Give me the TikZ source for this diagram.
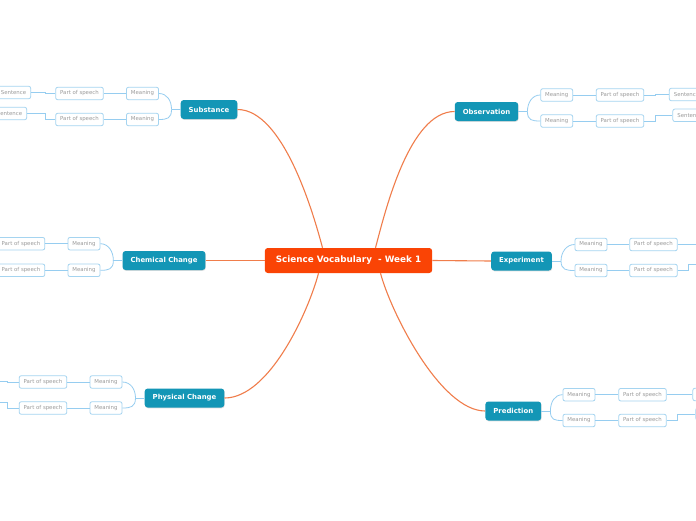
\documentclass[tikz,border=0pt]{standalone}
\usepackage{fontspec}
\setmainfont{DejaVu Sans}
\usetikzlibrary{shadows}

\definecolor{vocab}{RGB}{250,68,5}
\definecolor{topicteal}{RGB}{19,150,182}
\definecolor{branchorange}{RGB}{240,125,75}
\definecolor{leafline}{RGB}{150,205,240}
\definecolor{leafedge}{RGB}{165,212,240}
\definecolor{leaftext}{RGB}{155,155,155}

\begin{document}
\begin{tikzpicture}[x=1pt,y=-1pt,
    central/.style={fill=vocab, rounded corners=3pt, text=white,
      font=\bfseries\fontsize{8.8}{10}\selectfont, minimum height=25pt, inner xsep=11pt},
    topic/.style={fill=topicteal, rounded corners=3pt, text=white,
      font=\bfseries\fontsize{6.9}{8}\selectfont, minimum height=19pt, inner xsep=8pt,
      drop shadow={shadow xshift=0.4pt, shadow yshift=-0.8pt, opacity=0.25}},
    leaf/.style={draw=leafedge, fill=white, rounded corners=2pt, line width=0.8pt,
      text=leaftext, font=\fontsize{5.4}{6.5}\selectfont, minimum height=12.5pt,
      inner xsep=4.5pt, inner ysep=0pt},
    branch/.style={draw=branchorange, line width=1.1pt},
    twig/.style={draw=leafline, line width=0.8pt}]
  \useasboundingbox [fill=white] (0,0) rectangle (696,520);

  % center and main topics
  \node [central] (root) at (348.5,260.5) {Science Vocabulary\ \ - Week 1};
  \node [topic] (sub)  at (209,109.5)   {Substance};
  \node [topic] (obs)  at (486.5,111.5) {Observation};
  \node [topic] (chem) at (164,260.5)   {Chemical Change};
  \node [topic] (exp)  at (521.5,261)   {Experiment};
  \node [topic] (phys) at (184.5,398)   {Physical Change};
  \node [topic] (pred) at (513.3,411)   {Prediction};

  \draw [branch] (sub.east)  .. controls +(45,0) and +(-10,-38) .. ([xshift=-26pt]root.north);
  \draw [branch] (obs.west)  .. controls +(-45,0) and +(10,-38) .. ([xshift=27pt]root.north);
  \draw [branch] (phys.east) .. controls +(45,0) and +(-10,38) .. ([xshift=-30pt]root.south);
  \draw [branch] (pred.west) .. controls +(-45,0) and +(10,38) .. ([xshift=32pt]root.south);
  \draw [branch] (chem.east) -- (root.west);
  \draw [branch] (root.east) -- (exp.west);

  % Substance
  \node [leaf] (smean1) at (142.5,93.5)  {Meaning};
  \node [leaf] (smean2) at (142.5,119.5) {Meaning};
  \node [leaf] (spos1)  at (79.5,93.5)   {Part of speech};
  \node [leaf] (spos2)  at (79.5,119.5)  {Part of speech};
  \node [leaf] (ssen1)  at (13.5,92.5)   {Sentence};
  \node [leaf] (ssen2)  at (9.5,113.5)   {Sentence};
  \draw [twig] (sub.west) -- ++(-9,0) coordinate (subj);
  \draw [twig] (subj) .. controls +(0,-9) and +(8,0) .. (smean1.east);
  \draw [twig] (subj) .. controls +(0,9) and +(8,0) .. (smean2.east);
  \draw [twig] (smean1) -- (spos1);
  \draw [twig] (smean2) -- (spos2);
  \draw [twig] (spos1.west) -- ++(-10,0) |- (ssen1.east);
  \draw [twig] (spos2.west) -- ++(-10,0) |- (ssen2.east);

  % Observation
  \node [leaf] (omean1) at (556.7,95)  {Meaning};
  \node [leaf] (omean2) at (556.7,121) {Meaning};
  \node [leaf] (opos1)  at (620,95)    {Part of speech};
  \node [leaf] (opos2)  at (620,121)   {Part of speech};
  \node [leaf] (osen1)  at (686.5,94.5) {Sentence};
  \node [leaf] (osen2)  at (690,115.3) {Sentence};
  \draw [twig] (obs.east) -- ++(9,0) coordinate (obsj);
  \draw [twig] (obsj) .. controls +(0,-9) and +(-8,0) .. (omean1.west);
  \draw [twig] (obsj) .. controls +(0,9) and +(-8,0) .. (omean2.west);
  \draw [twig] (omean1) -- (opos1);
  \draw [twig] (omean2) -- (opos2);
  \draw [twig] (opos1.east) -- ++(11,0) |- (osen1.west);
  \draw [twig] (opos2.east) -- ++(11,0) |- (osen2.west);

  % Chemical Change
  \node [leaf] (cmean1) at (84,243.7) {Meaning};
  \node [leaf] (cmean2) at (84,270.3) {Meaning};
  \node [leaf] (cpos1)  at (21,243.7) {Part of speech};
  \node [leaf] (cpos2)  at (21,270.3) {Part of speech};
  \draw [twig] (chem.west) -- ++(-9,0) coordinate (chemj);
  \draw [twig] (chemj) .. controls +(0,-9) and +(8,0) .. (cmean1.east);
  \draw [twig] (chemj) .. controls +(0,9) and +(8,0) .. (cmean2.east);
  \draw [twig] (cmean1) -- (cpos1);
  \draw [twig] (cmean2) -- (cpos2);

  % Experiment
  \node [leaf] (emean1) at (591,244.5) {Meaning};
  \node [leaf] (emean2) at (591,270.5) {Meaning};
  \node [leaf] (epos1)  at (653.5,244.5) {Part of speech};
  \node [leaf] (epos2)  at (653.5,270.5) {Part of speech};
  \coordinate (esen1) at (710,244);
  \coordinate (esen2) at (710,264);
  \draw [twig] (exp.east) -- ++(9,0) coordinate (expj);
  \draw [twig] (expj) .. controls +(0,-9) and +(-8,0) .. (emean1.west);
  \draw [twig] (expj) .. controls +(0,9) and +(-8,0) .. (emean2.west);
  \draw [twig] (emean1) -- (epos1);
  \draw [twig] (emean2) -- (epos2);
  \draw [twig] (epos1.east) -- ++(11,0) |- (esen1);
  \draw [twig] (epos2.east) -- ++(11,0) |- (esen2);

  % Physical Change
  \node [leaf] (pmean1) at (106,382) {Meaning};
  \node [leaf] (pmean2) at (106,408) {Meaning};
  \node [leaf] (ppos1)  at (43,382)  {Part of speech};
  \node [leaf] (ppos2)  at (43,408)  {Part of speech};
  \coordinate (psen1) at (-10,381.5);
  \coordinate (psen2) at (-10,402);
  \draw [twig] (phys.west) -- ++(-9,0) coordinate (physj);
  \draw [twig] (physj) .. controls +(0,-9) and +(8,0) .. (pmean1.east);
  \draw [twig] (physj) .. controls +(0,9) and +(8,0) .. (pmean2.east);
  \draw [twig] (pmean1) -- (ppos1);
  \draw [twig] (pmean2) -- (ppos2);
  \draw [twig] (ppos1.west) -- ++(-11,0) |- (psen1);
  \draw [twig] (ppos2.west) -- ++(-11,0) |- (psen2);

  % Prediction
  \node [leaf] (rmean1) at (579,394.7) {Meaning};
  \node [leaf] (rmean2) at (579,420.5) {Meaning};
  \node [leaf] (rpos1)  at (642.5,394.7) {Part of speech};
  \node [leaf] (rpos2)  at (642.5,420.5) {Part of speech};
  \node [leaf] (rsen1)  at (710,394.5) {Sentence};
  \node [leaf] (rsen2)  at (713,414)   {Sentence};
  \draw [twig] (pred.east) -- ++(9,0) coordinate (predj);
  \draw [twig] (predj) .. controls +(0,-9) and +(-8,0) .. (rmean1.west);
  \draw [twig] (predj) .. controls +(0,9) and +(-8,0) .. (rmean2.west);
  \draw [twig] (rmean1) -- (rpos1);
  \draw [twig] (rmean2) -- (rpos2);
  \draw [twig] (rpos1.east) -- ++(11,0) |- (rsen1.west);
  \draw [twig] (rpos2.east) -- ++(11,0) |- (rsen2.west);
\end{tikzpicture}
\end{document}
